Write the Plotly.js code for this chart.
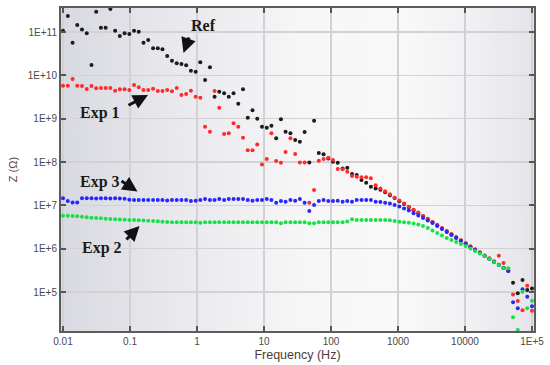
<!DOCTYPE html>
<html>
<head>
<meta charset="utf-8">
<script src="https://cdn.plot.ly/plotly-3.0.1.min.js"></script>
<style>
  html, body { margin: 0; padding: 0; background: #ffffff; }
  #chart { width: 550px; height: 365px; }
</style>
</head>
<body>
<div id="chart"></div>
<script>
// Frequency sweep (Hz)
const frequency = [
  0.01, 0.0118, 0.0139, 0.0163, 0.0192, 0.0226, 0.0266, 0.0313, 0.0368, 0.0433,
  0.0509, 0.0600, 0.0705, 0.0830, 0.0977, 0.115, 0.135, 0.159, 0.187, 0.221,
  0.260, 0.305, 0.359, 0.423, 0.498, 0.586, 0.689, 0.811, 0.955, 1.12,
  1.32, 1.56, 1.83, 2.15, 2.54, 2.98, 3.51, 4.13, 4.86, 5.72,
  6.73, 7.92, 9.33, 11.0, 12.9, 15.2, 17.9, 21.0, 24.8, 29.2,
  34.3, 40.4, 47.5, 55.9, 65.8, 77.4, 91.1, 107, 126, 149,
  175, 206, 242, 285, 335, 394, 464, 546, 643, 757,
  890, 1048, 1233, 1451, 1708, 2009, 2365, 2783, 3275, 3854,
  4535, 5337, 6281, 7392, 8699, 10235, 12045, 14175, 16681, 19630,
  23101, 27186, 31993, 37650, 44307, 52141, 61360, 72209, 84975, 100000
];

// |Z| (Ohm) – Ref
const zRef = [
  1.07e11, 2.34e11, 5.66e10, 1.45e11, 1.15e11, 9.3e10, 1.73e10, 2.94e11, 1.26e11, 1.26e11,
  3.39e11, 1.07e11, 8.07e10, 9.3e10, 8.98e10, 1.07e11, 1.01e11, 5.66e10, 6.53e10, 4.20e10,
  4.20e10, 3.98e10, 2.79e10, 2.17e10, 1.89e10, 1.82e10, 1.70e10, 1.28e10, 1.21e10, 2.0e10,
  7.8e9, 1.53e10, 3.21e9, 4.19e9, 3.85e9, 3.21e9, 3.85e9, 2.21e9, 4.75e9, 1.05e9,
  1.56e9, 9.95e8, 6.51e8, 6.18e8, 6.87e8, 3.52e8, 9.65e8, 4.99e8, 4.58e8, 3.21e8,
  2.94e8, 4.91e8, 9.8e7, 8.96e8, 1.61e8, 1.50e8, 1.21e8, 1.01e8, 9.6e7, 7.1e7,
  7.4e7, 5.27e7, 5.0e7, 3.84e7, 3.32e7, 2.69e7, 2.45e7, 2.30e7, 2.0e7, 1.72e7,
  1.47e7, 1.25e7, 1.07e7, 9.0e6, 7.7e6, 6.6e6, 5.57e6, 4.75e6, 4.05e6, 3.45e6,
  2.93e6, 2.50e6, 2.13e6, 1.81e6, 1.54e6, 1.31e6, 1.11e6, 9.5e5, 8.1e5, 6.9e5,
  5.85e5, 4.99e5, 4.26e5, 3.61e5, 3.08e5, 1.63e5, 9.3e4, 1.89e5, 1.11e5, 1.21e5
];

// |Z| (Ohm) – Exp 1
const zExp1 = [
  5.75e9, 5.75e9, 8.2e9, 5.75e9, 5.66e9, 4.83e9, 5.66e9, 5.01e9, 5.09e9, 5.09e9,
  5.09e9, 4.42e9, 4.75e9, 4.75e9, 4.58e9, 5.97e9, 5.28e9, 4.58e9, 4.58e9, 4.91e9,
  4.35e9, 4.35e9, 4.58e9, 4.28e9, 5.09e9, 3.51e9, 3.70e9, 4.42e9, 3.21e9, 3.04e9,
  6.51e8, 4.99e8, 4.35e9, 1.79e9, 4.42e8, 4.58e8, 7.8e8, 6.51e8, 3.63e8, 1.86e8,
  1.86e8, 2.55e8, 8.8e7, 1.17e8, 4.58e8, 1.05e8, 9.6e7, 1.70e8, 3.52e8, 1.53e8,
  9.8e7, 9.8e7, 1.15e7, 2.25e7, 1.07e8, 1.17e8, 1.25e8, 1.11e8, 6.9e7, 6.8e7,
  5.96e7, 4.74e7, 4.57e7, 4.43e7, 4.43e7, 4.2e7, 2.9e7, 2.45e7, 2.1e7, 1.8e7,
  1.5e7, 1.3e7, 1.1e7, 9.3e6, 7.9e6, 6.8e6, 5.7e6, 4.9e6, 4.15e6, 3.55e6,
  3.0e6, 2.55e6, 2.18e6, 1.85e6, 1.57e6, 1.34e6, 1.13e6, 9.7e5, 8.3e5, 7.0e5,
  6.0e5, 5.1e5, 6.9e5, 4.7e5, 3.1e5, 8.8e4, 6.2e4, 3.8e4, 1.39e5, 3.7e4
];

// |Z| (Ohm) – Exp 3
const zExp3 = [
  1.45e7, 1.26e7, 1.17e7, 1.17e7, 1.45e7, 1.45e7, 1.45e7, 1.44e7, 1.45e7, 1.45e7,
  1.44e7, 1.45e7, 1.44e7, 1.42e7, 1.35e7, 1.32e7, 1.32e7, 1.32e7, 1.32e7, 1.32e7,
  1.32e7, 1.32e7, 1.30e7, 1.32e7, 1.32e7, 1.32e7, 1.32e7, 1.26e7, 1.28e7, 1.32e7,
  1.40e7, 1.32e7, 1.32e7, 1.40e7, 1.32e7, 1.40e7, 1.40e7, 1.40e7, 1.40e7, 1.32e7,
  1.28e7, 1.32e7, 1.32e7, 1.40e7, 1.32e7, 1.15e7, 1.26e7, 1.21e7, 1.32e7, 1.28e7,
  1.40e7, 1.15e7, 7.4e6, 1.02e7, 1.26e7, 1.32e7, 1.26e7, 1.26e7, 1.28e7, 1.21e7,
  1.26e7, 1.21e7, 1.32e7, 1.32e7, 1.32e7, 1.32e7, 1.21e7, 1.19e7, 1.15e7, 1.10e7,
  1.02e7, 9.4e6, 8.4e6, 7.6e6, 6.6e6, 5.8e6, 5.09e6, 4.45e6, 3.90e6, 3.33e6,
  2.84e6, 2.42e6, 2.06e6, 1.76e6, 1.50e6, 1.28e6, 1.09e6, 9.3e5, 7.9e5, 6.8e5,
  5.8e5, 4.9e5, 4.19e5, 3.57e5, 3.04e5, 5.8e4, 4.19e4, 1.15e5, 7.8e4, 4.7e4
];

// |Z| (Ohm) – Exp 2
const zExp2 = [
  5.75e6, 5.75e6, 5.66e6, 5.57e6, 5.46e6, 5.28e6, 5.20e6, 5.09e6, 5.01e6, 4.93e6,
  4.82e6, 4.77e6, 4.70e6, 4.65e6, 4.60e6, 4.57e6, 4.50e6, 4.45e6, 4.38e6, 4.34e6,
  4.27e6, 4.20e6, 4.11e6, 4.05e6, 4.05e6, 4.05e6, 4.05e6, 4.05e6, 4.05e6, 3.96e6,
  4.05e6, 4.05e6, 4.05e6, 4.05e6, 4.05e6, 4.05e6, 4.05e6, 4.05e6, 4.05e6, 4.05e6,
  4.05e6, 4.05e6, 4.05e6, 4.05e6, 4.05e6, 4.05e6, 3.84e6, 4.05e6, 4.05e6, 4.05e6,
  4.05e6, 4.05e6, 3.84e6, 3.84e6, 4.05e6, 4.05e6, 4.05e6, 4.05e6, 4.05e6, 4.05e6,
  4.22e6, 4.75e6, 4.57e6, 4.57e6, 4.57e6, 4.57e6, 4.57e6, 4.57e6, 4.57e6, 4.50e6,
  4.34e6, 4.18e6, 4.07e6, 3.96e6, 3.80e6, 3.60e6, 3.33e6, 2.99e6, 2.62e6, 2.29e6,
  2.01e6, 1.76e6, 1.58e6, 1.42e6, 1.28e6, 1.15e6, 1.01e6, 8.8e5, 7.7e5, 6.8e5,
  5.8e5, 4.9e5, 4.19e5, 3.57e5, 3.52e5, 2.6e4, 1.33e4, 1.01e5, 4.19e4, 6.3e4
];

const xTickVals = [0.01, 0.1, 1, 10, 100, 1000, 10000, 100000];
const xTickText = ['0.01', '0.1', '1', '10', '100', '1000', '10000', '1E+5'];
const yTickVals = [1e5, 1e6, 1e7, 1e8, 1e9, 1e10, 1e11];
const yTickText = ['1E+5', '1E+6', '1E+7', '1E+8', '1E+9', '1E+10', '1E+11'];

const seriesNames = ['Ref', 'Exp 1', 'Exp 3', 'Exp 2'];
const seriesData = [zRef, zExp1, zExp3, zExp2];
const seriesColors = ['#1c1c1c', '#ff2a2a', '#2626ff', '#19e04a'];

// background gradient image for the plotting area
const cv = document.createElement('canvas');
cv.width = 400; cv.height = 4;
const cx = cv.getContext('2d');
const g = cx.createLinearGradient(0, 0, 400, 0);
g.addColorStop(0.00, '#d9d9e1');
g.addColorStop(0.25, '#e9e9ee');
g.addColorStop(0.50, '#f6f6f7');
g.addColorStop(0.72, '#f9f9f9');
g.addColorStop(0.88, '#f0f0f3');
g.addColorStop(1.00, '#e4e4ea');
cx.fillStyle = g;
cx.fillRect(0, 0, 400, 4);
const bgURL = cv.toDataURL('image/png');

const traces = seriesNames.map((name, i) => ({
  type: 'scatter',
  mode: 'markers',
  name: name,
  x: frequency,
  y: seriesData[i],
  marker: { color: seriesColors[i], size: 4, line: { width: 0 } },
  cliponaxis: true
}));

// plot-area geometry (pixels) for annotation placement
const L = 61, R = 534, T = 8, B = 331;
const px = v => (v - L) / (R - L);
const py = v => 1 - (v - T) / (B - T);

const labelFont = { family: 'Liberation Serif, Times New Roman, serif', size: 16, color: '#1a1a1a' };
const labels = [
  { text: '<b>Ref</b>', x: 203, y: 26 },
  { text: '<b>Exp 1</b>', x: 100, y: 113 },
  { text: '<b>Exp 3</b>', x: 100, y: 182 },
  { text: '<b>Exp 2</b>', x: 102, y: 248 }
];
const arrows = [
  { tip: [183.5, 53], tail: [189.5, 36] },
  { tip: [148, 95], tail: [127, 106] },
  { tip: [137.5, 191.5], tail: [120, 180] },
  { tip: [139.5, 226], tail: [125, 241] }
];
const annotations = [];
labels.forEach(l => annotations.push({
  xref: 'paper', yref: 'paper', x: px(l.x), y: py(l.y),
  xanchor: 'center', yanchor: 'middle', text: l.text, showarrow: false,
  font: labelFont
}));
arrows.forEach(a => annotations.push({
  xref: 'paper', yref: 'paper', x: px(a.tip[0]), y: py(a.tip[1]),
  ax: a.tail[0] - a.tip[0], ay: a.tail[1] - a.tip[1],
  text: '', showarrow: true, arrowhead: 2, arrowsize: 1, arrowwidth: 3,
  arrowcolor: '#111111', standoff: 0, startstandoff: 0
}));

const axisCommon = {
  type: 'log',
  showgrid: true, gridcolor: '#d2d2d4', gridwidth: 1.5,
  showline: true, linecolor: '#5c5c5c', linewidth: 2, mirror: 'ticks',
  ticks: 'inside', ticklen: 5, tickwidth: 2, tickcolor: '#555555',
  tickfont: { family: 'Liberation Sans, Arial, sans-serif', size: 10, color: '#4a4a4a' },
  zeroline: false
};

const layout = {
  width: 550, height: 365,
  margin: { l: 61, r: 16, t: 8, b: 34, pad: 0 },
  paper_bgcolor: '#ffffff',
  plot_bgcolor: 'rgba(0,0,0,0)',
  showlegend: false,
  xaxis: Object.assign({}, axisCommon, {
    range: [-2.03, 5.03],
    tickmode: 'array', tickvals: xTickVals, ticktext: xTickText,
    title: { text: 'Frequency (Hz)', standoff: 4,
      font: { family: 'Liberation Sans, Arial, sans-serif', size: 12.5, color: '#4d3c3c' } }
  }),
  yaxis: Object.assign({}, axisCommon, {
    range: [4.10, 11.554],
    tickmode: 'array', tickvals: yTickVals, ticktext: yTickText,
    title: { text: 'Z (Ω)', standoff: 8,
      font: { family: 'Liberation Sans, Arial, sans-serif', size: 11, color: '#5a4444' } }
  }),
  images: [{
    source: bgURL, xref: 'paper', yref: 'paper', x: 0, y: 1,
    sizex: 1, sizey: 1, sizing: 'stretch', xanchor: 'left', yanchor: 'top',
    layer: 'below'
  }],
  annotations: annotations
};

Plotly.newPlot('chart', traces, layout, { displayModeBar: false, staticPlot: true });
</script>
</body>
</html>
